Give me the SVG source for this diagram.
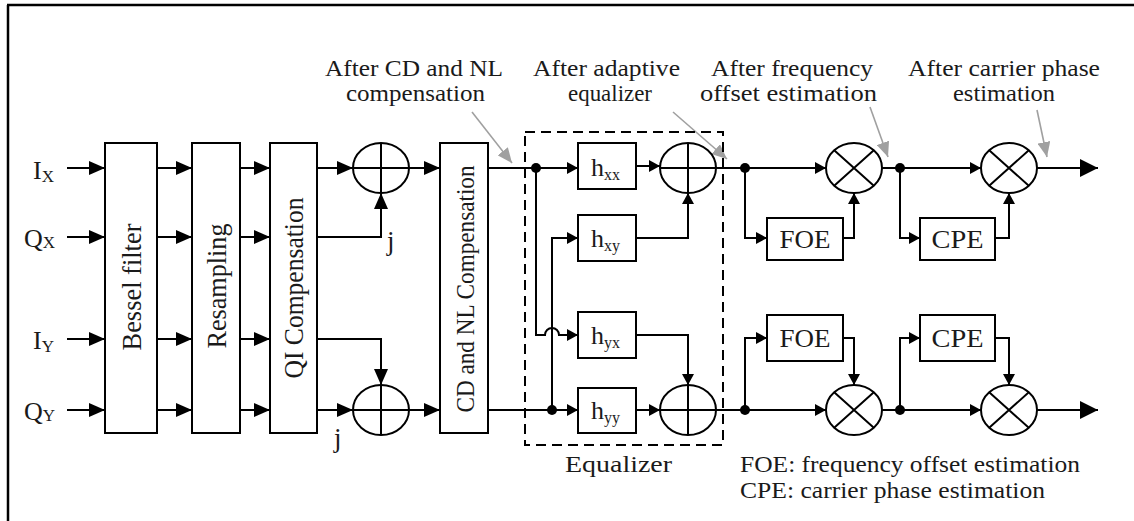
<svg xmlns="http://www.w3.org/2000/svg" width="1134" height="521" viewBox="0 0 1134 521">
<defs>
<style>
.ln{fill:none;stroke:#000;stroke-width:2}
.bx{fill:#fff;stroke:#000;stroke-width:2}
.t{font-family:"Liberation Serif","Times New Roman",serif;fill:#1a1a1a}
.gr{fill:none;stroke:#a0a0a0;stroke-width:1.6}
.ab{marker-end:url(#big)}
.as{marker-end:url(#sm)}
</style>
<marker id="big" markerWidth="16" markerHeight="14" refX="16" refY="7" orient="auto" markerUnits="userSpaceOnUse"><path d="M0,0 L16,7 L0,14 z" fill="#000"/></marker>
<marker id="sm" markerWidth="11" markerHeight="12" refX="11" refY="6" orient="auto" markerUnits="userSpaceOnUse"><path d="M0,0 L11,6 L0,12 z" fill="#000"/></marker>
<marker id="out" markerWidth="18" markerHeight="18" refX="18" refY="9" orient="auto" markerUnits="userSpaceOnUse"><path d="M0,0 L18,9 L0,18 z" fill="#000"/></marker>
<marker id="gm" markerWidth="15" markerHeight="13" refX="15" refY="6.5" orient="auto" markerUnits="userSpaceOnUse"><path d="M0,0 L15,6.5 L0,13 z" fill="#a0a0a0"/></marker>
</defs>
<rect width="1134" height="521" fill="#fff"/>
<g id="frame"><path d="M7,5 H1134 M8,5 V521" fill="none" stroke="#000" stroke-width="2.5"/></g>

<g id="connectors">
<path class="ln ab" d="M67,168 H105"/>
<path class="ln ab" d="M67,237 H105"/>
<path class="ln ab" d="M67,339 H105"/>
<path class="ln ab" d="M67,410 H105"/>
<path class="ln ab" d="M157,168 H192"/>
<path class="ln ab" d="M157,237 H192"/>
<path class="ln ab" d="M157,339 H192"/>
<path class="ln ab" d="M157,410 H192"/>
<path class="ln ab" d="M240,168 H270"/>
<path class="ln ab" d="M240,237 H270"/>
<path class="ln ab" d="M240,339 H270"/>
<path class="ln ab" d="M240,410 H270"/>
<path class="ln ab" d="M317,168 H353"/>
<path class="ln ab" d="M317,237 H381 V193"/>
<path class="ln ab" d="M317,339 H381 V385"/>
<path class="ln ab" d="M317,410 H353"/>
<path class="ln ab" d="M409,168 H440"/>
<path class="ln ab" d="M409,410 H440"/>
<path class="ln as" d="M488,168 H578"/>
<path class="ln as" d="M488,410 H578"/>
<path class="ln as" d="M552,410 V238 H578"/>
<path class="ln as" d="M536,168 V335 H545 A7,7 0 0 1 559,335 H578"/>
<path class="ln as" d="M636,166 H660"/>
<path class="ln as" d="M636,238 H688 V193"/>
<path class="ln as" d="M636,335 H688 V385"/>
<path class="ln as" d="M636,410 H660"/>
<path class="ln" d="M716,168 H745"/>
<path class="ln as" d="M745,168 H826"/>
<path class="ln as" d="M745,168 V238 H767"/>
<path class="ln as" d="M843,238 H854 V193"/>
<path class="ln" d="M882,168 H900"/>
<path class="ln as" d="M900,168 H981"/>
<path class="ln as" d="M900,168 V238 H920"/>
<path class="ln as" d="M995,238 H1009 V193"/>
<path class="ln" d="M1037,168 H1098" marker-end="url(#out)"/>
<path class="ln" d="M716,410 H745"/>
<path class="ln as" d="M745,410 H826"/>
<path class="ln as" d="M745,410 V338 H767"/>
<path class="ln as" d="M843,338 H854 V385"/>
<path class="ln" d="M882,410 H900"/>
<path class="ln as" d="M900,410 H981"/>
<path class="ln as" d="M900,410 V338 H920"/>
<path class="ln as" d="M995,338 H1009 V385"/>
<path class="ln" d="M1037,410 H1098" marker-end="url(#out)"/>
<g fill="#000">
<circle cx="536" cy="168" r="5"/>
<circle cx="552" cy="410" r="5"/>
<circle cx="745" cy="168" r="5"/>
<circle cx="745" cy="410" r="5"/>
<circle cx="900" cy="168" r="5"/>
<circle cx="900" cy="410" r="5"/>
</g>
<path class="gr" d="M472,112 L512,163" marker-end="url(#gm)"/>
<path class="gr" d="M673,112 L727,159" marker-end="url(#gm)"/>
<path class="gr" d="M870,107 L888,157" marker-end="url(#gm)"/>
<path class="gr" d="M1037,110 L1047,157" marker-end="url(#gm)"/>
</g>

<g id="labels-in" class="t" font-size="26">
<text x="33" y="179">I<tspan font-size="17" dy="3">X</tspan></text>
<text x="24" y="247">Q<tspan font-size="17" dy="1">X</tspan></text>
<text x="33" y="349">I<tspan font-size="17" dy="3">Y</tspan></text>
<text x="24" y="420">Q<tspan font-size="17" dy="1">Y</tspan></text>
</g>

<g id="bessel"><rect class="bx" x="105" y="143" width="52" height="290"/><text class="t" font-size="27" text-anchor="middle" textLength="127" lengthAdjust="spacingAndGlyphs" transform="translate(141,287) rotate(-90)">Bessel filter</text></g>
<g id="resampling"><rect class="bx" x="192" y="143" width="48" height="290"/><text class="t" font-size="27" text-anchor="middle" textLength="125" lengthAdjust="spacingAndGlyphs" transform="translate(226,286) rotate(-90)">Resampling</text></g>
<g id="qi"><rect class="bx" x="270" y="143" width="47" height="290"/><text class="t" font-size="27" text-anchor="middle" textLength="181" lengthAdjust="spacingAndGlyphs" transform="translate(303,288) rotate(-90)">QI Compensation</text></g>
<g id="cdnl"><rect class="bx" x="440" y="143" width="48" height="290"/><text class="t" font-size="26" text-anchor="middle" textLength="247" lengthAdjust="spacingAndGlyphs" transform="translate(474,289) rotate(-90)">CD and NL Compensation</text></g>

<g id="add1"><ellipse class="ln" cx="381" cy="168" rx="28" ry="25"/><path class="ln" d="M353,168 H409 M381,143 V193"/></g>
<g id="add2"><ellipse class="ln" cx="381" cy="410" rx="28" ry="25"/><path class="ln" d="M353,410 H409 M381,385 V435"/></g>
<text class="t" font-size="27" x="387" y="250">j</text>
<text class="t" font-size="27" x="334" y="447">j</text>

<g id="equalizer">
<rect x="525" y="132" width="198" height="313" fill="none" stroke="#000" stroke-width="2" stroke-dasharray="10,6"/>
<text class="t" font-size="24" x="565" y="472" textLength="107" lengthAdjust="spacingAndGlyphs">Equalizer</text>
</g>
<g id="hxx"><rect class="bx" x="578" y="143" width="58" height="46"/><text class="t" font-size="26" x="591" y="176">h<tspan font-size="16" dy="4">xx</tspan></text></g>
<g id="hxy"><rect class="bx" x="578" y="215" width="58" height="46"/><text class="t" font-size="26" x="591" y="247">h<tspan font-size="16" dy="4">xy</tspan></text></g>
<g id="hyx"><rect class="bx" x="578" y="312" width="58" height="46"/><text class="t" font-size="26" x="591" y="344">h<tspan font-size="16" dy="4">yx</tspan></text></g>
<g id="hyy"><rect class="bx" x="578" y="388" width="58" height="45"/><text class="t" font-size="26" x="591" y="419">h<tspan font-size="16" dy="4">yy</tspan></text></g>
<g id="add3"><ellipse class="ln" cx="688" cy="168" rx="28" ry="25"/><path class="ln" d="M660,168 H716 M688,143 V193"/></g>
<g id="add4"><ellipse class="ln" cx="688" cy="410" rx="28" ry="25"/><path class="ln" d="M660,410 H716 M688,385 V435"/></g>

<g id="foe1"><rect class="bx" x="767" y="218" width="76" height="42"/><text class="t" font-size="26" x="805" y="248" text-anchor="middle" textLength="51" lengthAdjust="spacingAndGlyphs">FOE</text></g>
<g id="foe2"><rect class="bx" x="767" y="315" width="76" height="46"/><text class="t" font-size="26" x="805" y="347" text-anchor="middle" textLength="51" lengthAdjust="spacingAndGlyphs">FOE</text></g>
<g id="cpe1"><rect class="bx" x="920" y="218" width="75" height="42"/><text class="t" font-size="26" x="957.5" y="248" text-anchor="middle" textLength="52" lengthAdjust="spacingAndGlyphs">CPE</text></g>
<g id="cpe2"><rect class="bx" x="920" y="315" width="75" height="46"/><text class="t" font-size="26" x="957.5" y="347" text-anchor="middle" textLength="52" lengthAdjust="spacingAndGlyphs">CPE</text></g>
<g id="mul1"><ellipse class="ln" cx="854" cy="168" rx="28" ry="25"/><path class="ln" d="M834.2,150.3 L873.8,185.7 M834.2,185.7 L873.8,150.3"/></g>
<g id="mul2"><ellipse class="ln" cx="854" cy="410" rx="28" ry="25"/><path class="ln" d="M834.2,392.3 L873.8,427.7 M834.2,427.7 L873.8,392.3"/></g>
<g id="mul3"><ellipse class="ln" cx="1009" cy="168" rx="28" ry="25"/><path class="ln" d="M989.2,150.3 L1028.8,185.7 M989.2,185.7 L1028.8,150.3"/></g>
<g id="mul4"><ellipse class="ln" cx="1009" cy="410" rx="28" ry="25"/><path class="ln" d="M989.2,392.3 L1028.8,427.7 M989.2,427.7 L1028.8,392.3"/></g>

<g id="annotations" class="t" font-size="24">
<text x="325" y="76" textLength="178" lengthAdjust="spacingAndGlyphs">After CD and NL</text>
<text x="346" y="101" textLength="139" lengthAdjust="spacingAndGlyphs">compensation</text>
<text x="533" y="76" textLength="147" lengthAdjust="spacingAndGlyphs">After adaptive</text>
<text x="568" y="101" textLength="84" lengthAdjust="spacingAndGlyphs">equalizer</text>
<text x="711" y="76" textLength="162" lengthAdjust="spacingAndGlyphs">After frequency</text>
<text x="700" y="101" textLength="177" lengthAdjust="spacingAndGlyphs">offset estimation</text>
<text x="908" y="76" textLength="192" lengthAdjust="spacingAndGlyphs">After carrier phase</text>
<text x="953" y="101" textLength="102" lengthAdjust="spacingAndGlyphs">estimation</text>
<text x="740" y="472" textLength="340" lengthAdjust="spacingAndGlyphs">FOE: frequency offset estimation</text>
<text x="740" y="498" textLength="305" lengthAdjust="spacingAndGlyphs">CPE: carrier phase estimation</text>
</g>
</svg>
